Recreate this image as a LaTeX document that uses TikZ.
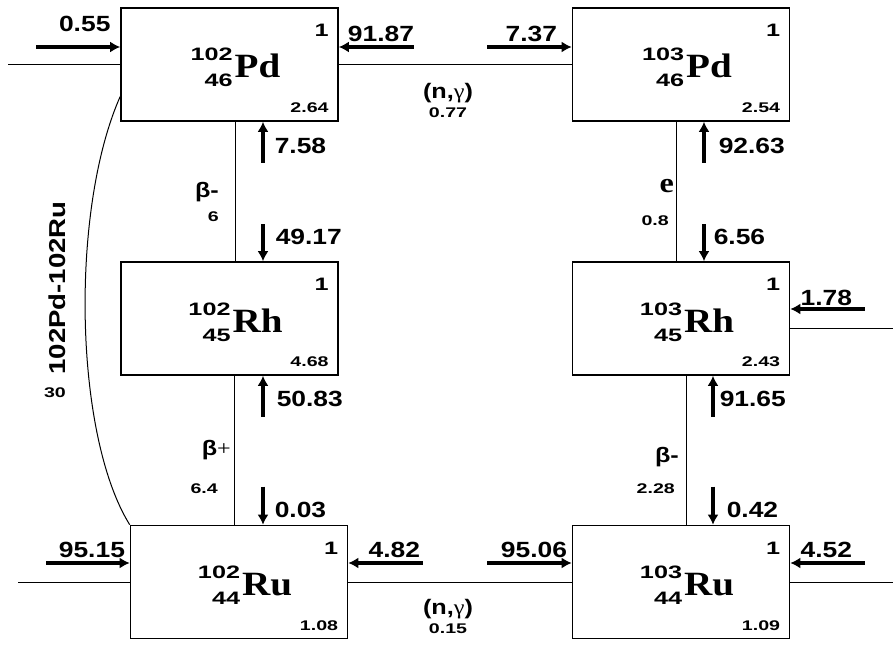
\documentclass[tikz,border=0pt]{standalone}
\usepackage{fontspec}
\setmainfont{Liberation Sans}
\newfontfamily\bigsans{Liberation Sans}[FakeStretch=1.2]
\newfontfamily\smallsans{Liberation Sans}[FakeStretch=1.4]
\newfontfamily\serifel{Liberation Serif}[FakeStretch=1.15]
\usepackage{tikz}
\usetikzlibrary{calc, arrows.meta, positioning}

\newcommand{\fluxfont}{\bigsans\bfseries\fontsize{22}{22}\selectfont}
\newcommand{\decayfont}{\bigsans\bfseries\fontsize{21}{21}\selectfont}
\newcommand{\supfont}{\smallsans\bfseries\fontsize{18}{26}\selectfont}
\newcommand{\valfont}{\smallsans\bfseries\fontsize{14}{14}\selectfont}
\newcommand{\elfont}{\serifel\bfseries\fontsize{34}{34}\selectfont}
\newcommand{\isotope}[3]{\raisebox{-9pt}{\supfont\begin{tabular}[b]{@{}r@{}}#1\\#2\end{tabular}}\hspace{2pt}{\elfont #3}}

\tikzset{
    nucbox/.style={draw, line width=1.6pt, minimum width=217pt, minimum height=113pt, inner sep=0pt},
    link/.style={line width=1pt},
    flux/.style={line width=3.5pt, -{Latex[length=10pt, width=11pt]}},
    fluxlab/.style={font=\fluxfont, inner sep=0pt},
    decaylab/.style={font=\decayfont, inner sep=0pt},
    smallnum/.style={font=\valfont, inner sep=0pt}
}

% box of one nuclide: name, centre, A, Z, symbol, value
\newcommand{\nuclide}[6]{%
    \node[nucbox] (#1) at (#2) {};
    \node[anchor=base, inner sep=0pt] (#1-sym) at ([shift={(6,13.5)}]#1.center) {\isotope{#3}{#4}{#5}};
    \node[anchor=north east, inner sep=0pt, font=\supfont] (#1-one) at ([shift={(-10,17)}]#1.north east) {1};
    \node[anchor=base east, smallnum] (#1-val) at ([shift={(-10,-9)}]#1.south east) {#6};
}

\begin{document}
\begin{tikzpicture}[x=1pt, y=-1pt]
    \path[use as bounding box, fill=white] (0,0) rectangle (893,655);

    % 1. Nuclide boxes
    \nuclide{pd102}{229.5,64.5}{102}{46}{Pd}{2.64}
    \nuclide{pd103}{681,64.5}{103}{46}{Pd}{2.54}
    \nuclide{rh102}{229.5,318.5}{102}{45}{Rh}{4.68}
    \nuclide{rh103}{681,318.5}{103}{45}{Rh}{2.43}
    \nuclide{ru102}{239,582}{102}{44}{Ru}{1.08}
    \nuclide{ru103}{681,582}{103}{44}{Ru}{1.09}

    % 2. Connecting lines
    \coordinate (pdin) at (8,64.5);
    \coordinate (ruin) at (18,582);
    \coordinate (ruout) at (893,582);
    \coordinate (rhout) at (893,328);
    \draw[link] (pdin) -- (pd102.west);
    \draw[link] (pd102.east) -- (pd103.west);
    \draw[link] (ruin) -- (ru102.west);
    \draw[link] (ru102.east) -- (ru103.west);
    \draw[link] (ru103.east) -- (ruout);
    \draw[link] (rh103.east |- rhout) -- (rhout);
    \draw[link] ([xshift=5.5pt]pd102.south) -- ([xshift=5.5pt]rh102.north);
    \draw[link] ([xshift=4.5pt]rh102.south) -- ([xshift=4.5pt]rh102.south |- ru102.north);
    \draw[link] ([xshift=-5pt]pd103.south) -- ([xshift=-5pt]rh103.north);
    \draw[link] ([xshift=5pt]rh103.south) -- ([xshift=5pt]ru103.north);
    \draw[link] ([shift={(0,32)}]pd102.west) .. controls (70,210) and (74,435) .. (ru102.north west);

    % 3. Flux arrows
    \draw[flux] ([shift={(-84,-17.5)}]pd102.west) -- ([shift={(0,-17.5)}]pd102.west)
        node[fluxlab, anchor=base east, xshift=-8pt, yshift=15pt] (f1) {0.55};
    \draw[flux] ([shift={(75,-17.5)}]pd102.east)
        node[fluxlab, anchor=base east, xshift=2pt, yshift=5pt] (f2) {91.87} -- ([shift={(0,-17.5)}]pd102.east);
    \draw[flux] ([shift={(33.5,41)}]pd102.south) -- ([shift={(33.5,0)}]pd102.south)
        node[fluxlab, midway, anchor=west, xshift=10pt, yshift=-3.5pt] (f3) {7.58};
    \draw[flux] ([shift={(33.5,-37)}]rh102.north) -- ([shift={(33.5,0)}]rh102.north)
        node[fluxlab, midway, anchor=west, xshift=11pt, yshift=5.5pt] (f4) {49.17};
    \draw[flux] ([shift={(33.5,41)}]rh102.south) -- ([shift={(33.5,0)}]rh102.south)
        node[fluxlab, midway, anchor=west, xshift=12pt, yshift=-2.5pt] (f5) {50.83};
    \draw[flux] ([shift={(24,-38)}]ru102.north) -- ([shift={(24,0)}]ru102.north)
        node[fluxlab, midway, anchor=west, xshift=10pt, yshift=-4pt] (f6) {0.03};
    \draw[flux] ([shift={(-83.5,-19)}]ru102.west) -- ([shift={(0,-19)}]ru102.west)
        node[fluxlab, anchor=base east, xshift=-3pt, yshift=6pt] (f7) {95.15};
    \draw[flux] ([shift={(74.5,-19)}]ru102.east)
        node[fluxlab, anchor=base east, xshift=-1pt, yshift=6pt] (f8) {4.82} -- ([shift={(0,-19)}]ru102.east);
    \draw[flux] ([shift={(-84.5,-17.5)}]pd103.west) -- ([shift={(0,-17.5)}]pd103.west)
        node[fluxlab, anchor=base east, xshift=-13pt, yshift=5pt] (f9) {7.37};
    \draw[flux] ([shift={(23,41)}]pd103.south) -- ([shift={(23,0)}]pd103.south)
        node[fluxlab, midway, anchor=west, xshift=13pt, yshift=-3.5pt] (f10) {92.63};
    \draw[flux] ([shift={(23,-37)}]rh103.north) -- ([shift={(23,0)}]rh103.north)
        node[fluxlab, midway, anchor=west, xshift=8pt, yshift=5.5pt] (f11) {6.56};
    \draw[flux] ([shift={(74.5,-9.5)}]rh103.east)
        node[fluxlab, anchor=base east, xshift=-11pt, yshift=4pt] (f12) {1.78} -- ([shift={(0,-9.5)}]rh103.east);
    \draw[flux] ([shift={(32,41)}]rh103.south) -- ([shift={(32,0)}]rh103.south)
        node[fluxlab, midway, anchor=west, xshift=5pt, yshift=-2.5pt] (f13) {91.65};
    \draw[flux] ([shift={(32,-38)}]ru103.north) -- ([shift={(32,0)}]ru103.north)
        node[fluxlab, midway, anchor=west, xshift=12pt, yshift=-4pt] (f14) {0.42};
    \draw[flux] ([shift={(-84.5,-19)}]ru103.west) -- ([shift={(0,-19)}]ru103.west)
        node[fluxlab, anchor=base east, xshift=-3pt, yshift=6pt] (f15) {95.06};
    \draw[flux] ([shift={(74.5,-19)}]ru103.east)
        node[fluxlab, anchor=base east, xshift=-11pt, yshift=6pt] (f16) {4.52} -- ([shift={(0,-19)}]ru103.east);

    % 4. Reaction and decay labels
    \node[decaylab, anchor=base east] (bm1) at (219,197) {β-};
    \node[smallnum, anchor=base east] (bm1v) at (219,221) {6};
    \node[decaylab, anchor=base east] (bp1) at (231,455) {β{\serifel\mdseries +}};
    \node[smallnum, anchor=base east] (bp1v) at (218,493) {6.4};
    \node[decaylab, anchor=base east] (ec1) at (674,193) {\serifel\fontsize{28}{28}\selectfont e};
    \node[smallnum, anchor=base east] (ec1v) at (669,225) {0.8};
    \node[decaylab, anchor=base east] (bm2) at (679,462) {β-};
    \node[smallnum, anchor=base east] (bm2v) at (675,493) {2.28};
    \node[decaylab, anchor=base] (ng1) at (448,99) {(n,{\serifel\mdseries γ})};
    \node[smallnum, anchor=base] (ng1v) at (448,118) {0.77};
    \node[decaylab, anchor=base] (ng2) at (448,614) {(n,{\serifel\mdseries γ})};
    \node[smallnum, anchor=base] (ng2v) at (448,633) {0.15};
    \node[fluxlab, font=\bigsans\bfseries\fontsize{23}{23}\selectfont, rotate=90] (dbd) at (57,288) {102Pd-102Ru};
    \node[smallnum] (dbdv) at (55,393) {30};
\end{tikzpicture}
\end{document}
